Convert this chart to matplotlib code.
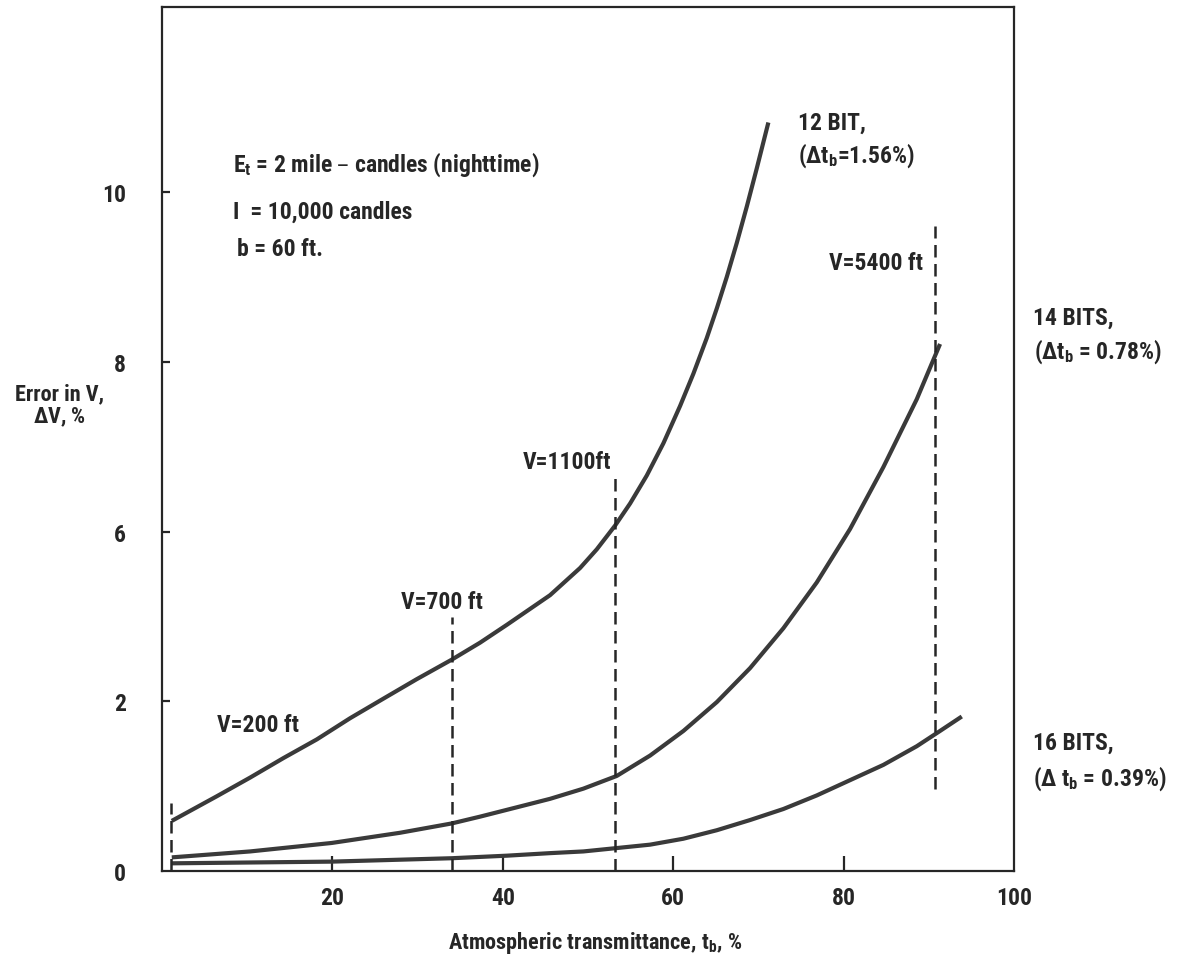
import matplotlib
matplotlib.use('Agg')
import matplotlib.pyplot as plt
from matplotlib import font_manager

# pick a condensed face if there is one
names = set(f.name for f in font_manager.fontManager.ttflist)
family = 'DejaVu Sans'
for cand in ['Roboto Condensed', 'Liberation Sans Narrow', 'DejaVu Sans Condensed']:
    if cand in names:
        family = cand
        break
plt.rcParams['font.family'] = [family, 'DejaVu Sans']
plt.rcParams['font.weight'] = 'bold'
plt.rcParams['axes.labelweight'] = 'bold'
plt.rcParams['mathtext.default'] = 'regular'

ink = '#262626'
curve_col = '#3a3a3a'
fs = 17

# transmittance t_b (%) and error (plot units)
t12 = [1.14, 6.42, 10.33, 14.24, 18.16, 22.07, 25.97, 29.89, 34.00, 37.32,
       40.46, 45.54, 49.06, 51.02, 53.17, 54.93, 56.89, 58.84, 60.80, 62.36,
       63.93, 65.11, 66.28, 67.45, 68.63, 69.80, 71.16]
e12 = [0.59, 0.88, 1.10, 1.33, 1.55, 1.80, 2.03, 2.26, 2.49, 2.69,
       2.90, 3.25, 3.57, 3.79, 4.07, 4.33, 4.66, 5.04, 5.48, 5.86,
       6.28, 6.63, 7.00, 7.40, 7.83, 8.28, 8.82]

t14 = [1.14, 10.33, 19.92, 27.93, 34.00, 37.32, 41.63, 45.54, 49.45, 53.37,
       57.28, 61.19, 65.11, 69.01, 72.92, 76.84, 80.75, 84.66, 88.58, 91.31]
e14 = [0.16, 0.23, 0.33, 0.45, 0.56, 0.64, 0.75, 0.85, 0.97, 1.12,
       1.36, 1.65, 1.99, 2.39, 2.86, 3.40, 4.03, 4.76, 5.56, 6.21]

t16 = [1.14, 19.92, 34.00, 40.46, 45.54, 49.45, 53.37, 57.28, 61.19, 65.11,
       69.01, 72.92, 76.84, 80.75, 84.66, 88.58, 91.31, 93.86]
e16 = [0.09, 0.11, 0.15, 0.18, 0.21, 0.23, 0.27, 0.31, 0.38, 0.48,
       0.60, 0.73, 0.89, 1.07, 1.25, 1.47, 1.65, 1.82]

# visibility markers (dashed verticals): position, bottom, top
v_pos = [1.1, 34.0, 53.2, 90.7]
v_bot = [0.0, 0.0, 0.0, 0.97]
v_top = [0.8, 2.99, 4.64, 7.6]

yticks = [0, 2, 4, 6, 8]
ytick_labels = ['0', '2', '6', '8', '10']
xticks = [20, 40, 60, 80, 100]
xtick_labels = ['20', '40', '60', '80', '100']

fig = plt.figure(figsize=(11.89, 9.62), dpi=100)
ax = fig.add_axes([0.1363, 0.0936, 0.7166, 0.898])

for t, e in [(t12, e12), (t14, e14), (t16, e16)]:
    ax.plot(t, e, color=curve_col, lw=3.0, solid_capstyle='butt',
            solid_joinstyle='round')

ax.vlines(v_pos, v_bot, v_top, colors=ink, lw=1.8, linestyles=(0, (5, 2.6)))

ax.set_xlim(0, 100)
ax.set_ylim(0, 10.18)

for s in ax.spines.values():
    s.set_linewidth(1.6)
    s.set_color(ink)

ax.set_xticks(xticks)
ax.set_xticklabels(xtick_labels)
ax.set_yticks(yticks)
ax.set_yticklabels(ytick_labels)
ax.tick_params(axis='x', direction='in', length=11, width=1.6, pad=11,
               labelsize=fs, colors=ink)
ax.tick_params(axis='y', direction='in', length=6, width=1.6, pad=26,
               labelsize=fs, colors=ink)
ax.xaxis.get_major_ticks()[-1].tick1line.set_visible(False)
ax.yaxis.get_major_ticks()[0].tick1line.set_visible(False)

ax.set_xlabel('Atmospheric transmittance, t$_b$, %', fontsize=16, color=ink,
              fontweight='bold', va='center')
ax.xaxis.set_label_coords(0.508, -0.082)
ax.set_ylabel('Error in V,\n$\\Delta$V, %', fontsize=16, color=ink,
              fontweight='bold', rotation=0, ha='center', va='center',
              linespacing=1.05)
ax.yaxis.set_label_coords(-0.12, 0.539)

kw = dict(fontsize=fs, color=ink, va='center', clip_on=False)
ax.text(8.3, 8.33, 'E$_t$ = 2 mile – candles (nighttime)', **kw)
ax.text(8.3, 7.77, 'I  = 10,000 candles', **kw)
ax.text(8.8, 7.33, 'b = 60 ft.', **kw)

ax.text(74.6, 8.82, '12 BIT,', **kw)
ax.text(74.6, 8.44, '($\\Delta$t$_b$=1.56%)', **kw)
ax.text(102.2, 6.52, '14 BITS,', **kw)
ax.text(102.3, 6.13, '($\\Delta$t$_b$ = 0.78%)', **kw)
ax.text(102.2, 1.52, '16 BITS,', **kw)
ax.text(102.2, 1.10, '($\\Delta$ t$_b$ = 0.39%)', **kw)

ax.text(6.4, 1.73, 'V=200 ft', **kw)
ax.text(28.1, 3.18, 'V=700 ft', **kw)
ax.text(42.3, 4.83, 'V=1100ft', **kw)
ax.text(89.3, 7.17, 'V=5400 ft', ha='right', fontsize=fs, color=ink, va='center')

fig.savefig('out.png', dpi=100)
